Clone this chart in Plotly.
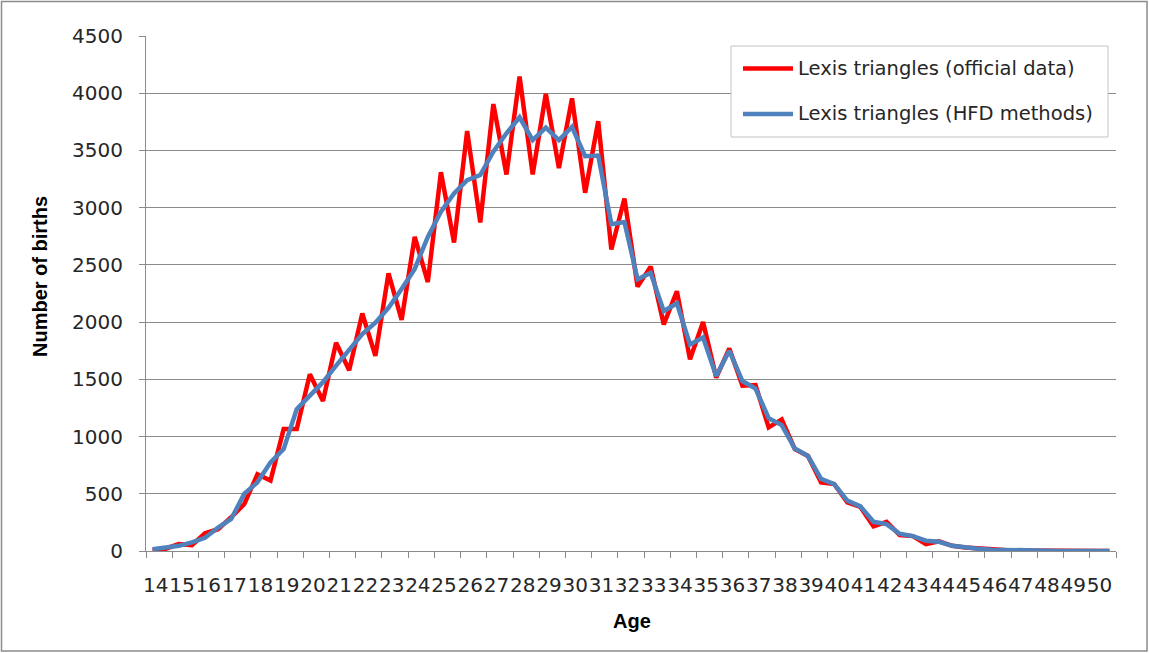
import plotly.graph_objects as go

ages = list(range(14, 51))
# two Lexis triangles per age (lower / upper)
official = [5, 20, 60, 50, 155, 190, 295, 410, 670, 615, 1065, 1065, 1545, 1310,
            1820, 1580, 2075, 1705, 2425, 2020, 2745, 2350, 3310, 2695, 3670, 2870,
            3905, 3290, 4145, 3290, 3995, 3345, 3955, 3130, 3755, 2635, 3080, 2310,
            2485, 1980, 2270, 1675, 2000, 1515, 1770, 1445, 1450, 1080, 1150, 890,
            830, 600, 585, 425, 385, 215, 255, 140, 130, 60, 85, 45, 30, 20,
            12, 8, 5, 3, 2, 1, 1, 0, 0, 0]
hfd = [15, 30, 45, 75, 115, 205, 280, 500, 600, 775, 890, 1240, 1355, 1475,
       1620, 1765, 1895, 1995, 2125, 2290, 2465, 2745, 2965, 3125, 3240, 3285,
       3490, 3650, 3790, 3590, 3700, 3590, 3705, 3450, 3455, 2855, 2875, 2375,
       2430, 2095, 2165, 1805, 1865, 1530, 1750, 1485, 1420, 1160, 1100, 895,
       830, 630, 585, 440, 390, 255, 235, 150, 130, 90, 80, 45, 30, 20,
       12, 8, 5, 3, 2, 1, 1, 0, 0, 0]
series_names = ["Lexis triangles (official data)", "Lexis triangles (HFD methods)"]
series_colors = ["#FF0000", "#4F81BD"]

xpos = []
for a in ages:
    xpos += [a + 0.25, a + 0.75]

W, H = 1149, 653
L, R, T, B = 146, 1116, 36, 551


def px(x):
    return (x - L) / (R - L)


def py(y):
    return (B - y) / (B - T)


fig = go.Figure()
for vals, name, col in zip([official, hfd], series_names, series_colors):
    fig.add_trace(go.Scatter(x=xpos, y=vals, mode="lines", name=name,
                             line=dict(color=col, width=4.5), showlegend=False))

grid = "#8a8a8a"
tickfont = dict(family="DejaVu Sans", size=20, color="#262626")

fig.update_layout(
    width=W, height=H,
    margin=dict(l=L, r=W - R, t=T, b=H - B),
    paper_bgcolor="white", plot_bgcolor="white",
    xaxis=dict(range=[14, 51], tickmode="array",
               tickvals=[a + 0.37 for a in ages], ticktext=[str(a) for a in ages],
               ticks="", tickangle=0, tickfont=tickfont, showgrid=False,
               showline=True, linecolor=grid, linewidth=1, zeroline=False,
               ticklabelstandoff=16,
               minor=dict(tickmode="array", tickvals=list(range(14, 52)),
                          ticks="outside", ticklen=6, tickcolor=grid, showgrid=False)),
    yaxis=dict(range=[0, 4500], tickmode="linear", tick0=0, dtick=500,
               ticks="outside", ticklen=6, tickcolor=grid, tickfont=tickfont,
               showgrid=True, gridcolor=grid, gridwidth=1,
               showline=True, linecolor=grid, linewidth=1, zeroline=False,
               ticklabelstandoff=12),
)

shapes = [
    dict(type="rect", xref="paper", yref="paper", x0=px(1.5), x1=px(1147),
         y0=py(651), y1=py(1.5), line=dict(color="#8c8c8c", width=1.5), layer="below"),
    dict(type="rect", xref="paper", yref="paper", x0=px(731), x1=px(1108),
         y0=py(137), y1=py(46), line=dict(color="#c4c4c4", width=1),
         fillcolor="white", layer="above"),
]
leg_y = [68.5, 114]
for yy, col in zip(leg_y, series_colors):
    shapes.append(dict(type="line", xref="paper", yref="paper", x0=px(743), x1=px(793),
                       y0=py(yy), y1=py(yy), line=dict(color=col, width=4.5), layer="above"))
fig.update_layout(shapes=shapes)

annotations = [
    dict(text="Number of births", xref="paper", yref="paper", x=px(40), y=py(277),
         textangle=-90, showarrow=False, xanchor="center", yanchor="middle",
         font=dict(family="Liberation Sans", size=20, color="#000000", weight="bold")),
    dict(text="Age", xref="paper", yref="paper", x=px(632), y=py(621),
         showarrow=False, xanchor="center", yanchor="middle",
         font=dict(family="Liberation Sans", size=20, color="#000000", weight="bold")),
]
for yy, name in zip(leg_y, series_names):
    annotations.append(dict(text=name, xref="paper", yref="paper", x=px(796), y=py(yy),
                            showarrow=False, xanchor="left", yanchor="middle",
                            font=dict(family="DejaVu Sans", size=19.5, color="#262626")))
fig.update_layout(annotations=annotations)

fig.write_html("out.html", config={"displayModeBar": False},
               post_script="document.body.style.margin='0px';document.body.style.padding='0px';")
